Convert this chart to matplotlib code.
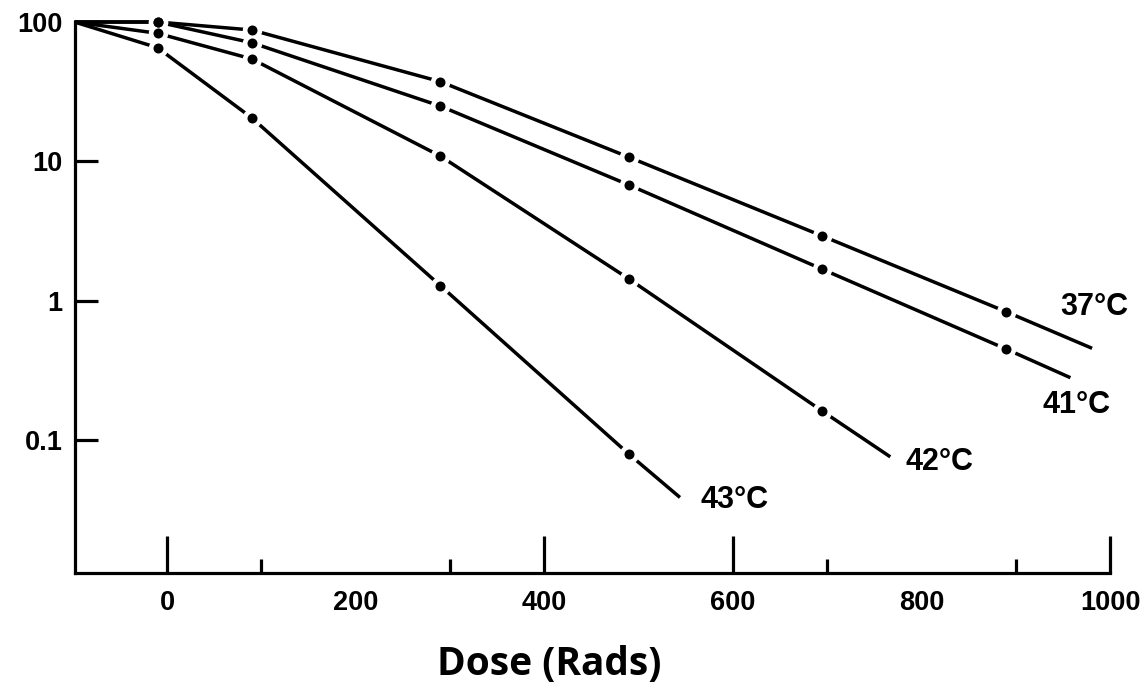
import matplotlib
matplotlib.use("Agg")
import matplotlib.pyplot as plt
from matplotlib.ticker import NullLocator, FixedLocator

# ---- data ----
dose_points = [-10, 90, 290, 490, 695, 890]
surv_37 = [100, 87.6, 37.3, 10.7, 2.91, 0.832]
surv_41 = [100, 71.0, 24.9, 6.76, 1.68, 0.449]
surv_42 = [83.0, 54.3, 10.9, 1.43, 0.161]
surv_43 = [65.4, 20.5, 1.28, 0.079]
curve_start_dose = -98
curve_start_surv = 100
end_dose = [981, 958, 767, 544]
end_surv = [0.455, 0.28, 0.0757, 0.0387]
curve_labels = ["37°C", "41°C", "42°C", "43°C"]
label_dose = [983, 965, 819, 602]
label_surv = [0.90, 0.178, 0.0693, 0.037]

xtick_vals = [0, 200, 400, 600, 800, 1000]
xtick_labels = ["0", "200", "400", "600", "800", "1000"]
xtick_no_mark = [200, 800]
short_ticks = [100, 300, 700, 900]
ytick_vals = [0.1, 1, 10, 100]
ytick_labels = ["0.1", "1", "10", "100"]

W, H = 1148, 690
fig = plt.figure(figsize=(W / 100, H / 100), dpi=100)
ax = fig.add_axes([75 / W, 1 - 573 / H, (1110 - 75) / W, (573 - 22) / H])
ax.set_yscale("log")
ax.set_xlim(-97.5, 1000)
ax.set_ylim(0.0111, 100)

series = [surv_37, surv_41, surv_42, surv_43]
for i, s in enumerate(series):
    xs = [curve_start_dose] + dose_points[:len(s)] + [end_dose[i]]
    ys = [curve_start_surv] + s + [end_surv[i]]
    ax.plot(xs, ys, color="black", lw=2.5, solid_capstyle="butt", zorder=2, clip_on=False)
    ax.plot(dose_points[:len(s)], s, linestyle="none", marker="o", ms=13,
            mfc="white", mec="white", zorder=3, clip_on=False)
for i, s in enumerate(series):
    ax.plot(dose_points[:len(s)], s, linestyle="none", marker="o", ms=7.2,
            mfc="black", mec="black", mew=0, zorder=4, clip_on=False)
    ax.text(label_dose[i], label_surv[i], curve_labels[i], ha="center", va="center",
            fontsize=22, fontweight="bold", family="Liberation Sans")

for side in ["top", "right"]:
    ax.spines[side].set_visible(False)
for side in ["left", "bottom"]:
    ax.spines[side].set_linewidth(2.3)

ax.xaxis.set_major_locator(FixedLocator(xtick_vals))
ax.set_xticklabels(xtick_labels)
ax.xaxis.set_minor_locator(FixedLocator(short_ticks))
ax.tick_params(axis="x", which="major", direction="in", length=27, width=2.3,
               pad=12, labelsize=19.5)
ax.tick_params(axis="x", which="minor", direction="in", length=10, width=2.3)
for t, v in zip(ax.xaxis.get_major_ticks(), xtick_vals):
    if v in xtick_no_mark:
        t.tick1line.set_visible(False)

ax.yaxis.set_major_locator(FixedLocator(ytick_vals))
ax.yaxis.set_minor_locator(NullLocator())
ax.set_yticklabels(ytick_labels)
ax.tick_params(axis="y", which="major", direction="in", length=16.5, width=2.3,
               pad=9, labelsize=19.5)
for lab in ax.get_xticklabels() + ax.get_yticklabels():
    lab.set_fontweight("bold")
    lab.set_family("Liberation Sans")

fig.text(549 / W, 1 - 664 / H, "Dose (Rads)", ha="center", va="center",
         fontsize=28, fontweight="bold", family="Open Sans")

fig.savefig("out.png", dpi=100, facecolor="white")
